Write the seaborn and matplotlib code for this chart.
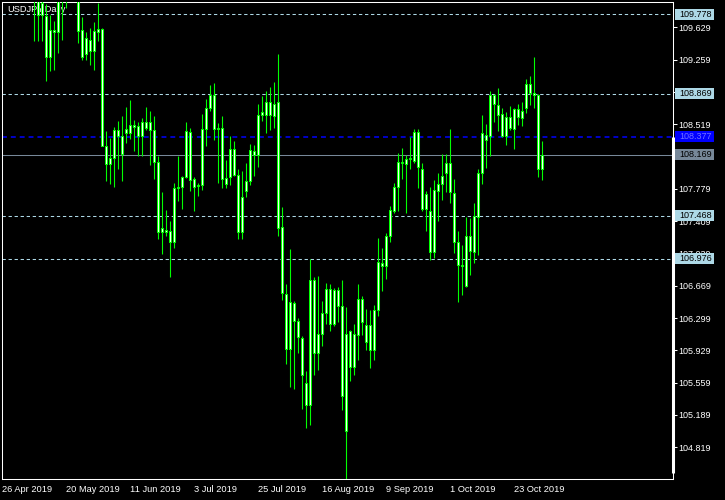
import numpy as np
import pandas as pd
import matplotlib
matplotlib.use("Agg")
import matplotlib.pyplot as plt
import matplotlib.transforms as mtransforms
from matplotlib.patches import Rectangle
import seaborn as sns

# --- Data ---
symbol_title = "USDJPY,Daily"
start_date = "2019-04-26"

opens = [111.60, 111.55, 111.45, 111.40, 111.55, 111.50, 111.00, 110.70, 110.25, 110.00,
         109.77, 109.76, 109.29, 109.60, 109.58, 109.95, 110.05, 110.10, 110.50, 110.35,
         109.60, 109.32, 109.48, 109.36, 109.58, 109.61, 108.27, 108.06, 108.13, 108.45,
         108.38, 108.42, 108.42, 108.51, 108.50, 108.38, 108.55, 108.45, 108.45, 108.09,
         107.29, 107.31, 107.30, 107.17, 107.79, 107.80, 107.91, 108.43, 107.89, 107.81,
         107.82, 108.46, 108.71, 108.85, 108.46, 108.48, 107.90, 107.91, 108.23, 107.94,
         107.29, 107.76, 107.87, 108.21, 108.17, 108.62, 108.77, 108.62, 108.61, 108.77,
         107.34, 106.57, 105.94, 106.47, 106.26, 106.07, 105.55, 105.30, 106.74, 105.90,
         106.12, 106.36, 106.63, 106.23, 106.62, 106.44, 105.00, 106.15, 105.74, 106.11,
         106.52, 106.22, 106.22, 105.93, 106.39, 106.93, 106.90, 107.24, 107.53, 107.80,
         108.09, 108.06, 108.12, 108.10, 108.43, 108.01, 107.55, 107.53, 107.05, 107.76,
         107.83, 107.96, 108.07, 107.73, 107.17, 106.91, 106.67, 107.24, 107.06, 107.46,
         107.96, 108.40, 108.39, 108.85, 108.74, 108.64, 108.39, 108.60, 108.47, 108.69,
         108.59, 108.70, 108.98, 108.88, 108.85, 108.01]
highs = [111.75, 111.70, 111.55, 111.65, 111.70, 111.60, 111.10, 110.80, 110.30, 110.10,
         110.05, 109.90, 109.77, 109.70, 110.00, 110.10, 110.35, 110.65, 110.65, 110.45,
         109.75, 109.58, 109.62, 109.69, 109.91, 109.62, 108.44, 108.36, 108.49, 108.56,
         108.61, 108.72, 108.80, 108.57, 108.54, 108.59, 108.72, 108.67, 108.61, 108.15,
         107.74, 107.54, 107.41, 107.85, 108.16, 107.93, 108.54, 108.48, 107.92, 107.85,
         108.64, 108.81, 108.97, 108.99, 108.53, 108.61, 108.11, 108.38, 108.33, 108.01,
         107.98, 108.07, 108.29, 108.28, 108.75, 108.84, 108.90, 108.94, 109.00, 109.32,
         107.57, 106.69, 107.09, 106.49, 106.30, 106.09, 105.69, 106.97, 106.77, 106.78,
         106.49, 106.70, 106.69, 106.64, 106.65, 106.74, 106.42, 106.16, 106.23, 106.69,
         106.55, 106.40, 106.39, 106.45, 107.22, 107.10, 107.27, 107.58, 107.85, 108.19,
         108.25, 108.17, 108.37, 108.47, 108.47, 108.08, 107.76, 107.80, 107.88, 107.96,
         108.18, 108.18, 108.47, 107.89, 107.30, 107.14, 107.46, 107.44, 107.62, 108.01,
         108.63, 108.52, 108.90, 108.86, 108.93, 108.71, 108.66, 108.73, 108.71, 108.75,
         108.77, 109.04, 109.07, 109.29, 108.86, 108.33]
lows = [111.40, 111.35, 111.00, 111.30, 111.40, 111.00, 110.30, 110.20, 109.47, 109.47,
        109.47, 109.01, 109.13, 109.14, 109.33, 109.48, 109.85, 110.05, 110.20, 109.45,
        109.25, 109.26, 109.20, 109.14, 109.47, 108.27, 107.87, 107.83, 107.80, 108.01,
        107.87, 108.30, 108.35, 108.21, 108.16, 108.15, 108.45, 108.05, 107.89, 107.21,
        107.03, 107.24, 106.77, 107.10, 107.64, 107.55, 107.90, 107.76, 107.53, 107.70,
        107.77, 108.27, 108.67, 108.34, 107.85, 107.79, 107.79, 107.82, 107.93, 107.20,
        107.20, 107.69, 107.82, 107.93, 108.03, 108.56, 108.42, 108.45, 108.48, 107.24,
        106.51, 105.77, 105.51, 105.49, 105.90, 105.26, 105.04, 105.07, 105.65, 105.70,
        105.98, 106.23, 106.15, 106.21, 106.25, 105.25, 104.46, 105.58, 105.65, 105.82,
        106.11, 105.93, 105.73, 105.82, 106.32, 106.61, 106.75, 107.17, 107.50, 107.52,
        107.89, 107.50, 108.01, 108.08, 107.79, 107.52, 107.30, 106.96, 106.99, 107.41,
        107.65, 107.74, 107.62, 107.04, 106.48, 106.56, 106.65, 106.79, 106.93, 107.02,
        107.83, 108.02, 108.15, 108.55, 108.44, 108.37, 108.28, 108.45, 108.24, 108.51,
        108.50, 108.65, 108.74, 108.71, 107.92, 107.88]
closes = [111.55, 111.45, 111.40, 111.55, 111.50, 111.10, 110.70, 110.25, 110.00, 109.77,
          109.91, 109.29, 109.60, 109.58, 109.95, 110.05, 110.10, 110.50, 110.35, 109.59,
          109.29, 109.51, 109.36, 109.59, 109.61, 108.27, 108.06, 108.13, 108.45, 108.38,
          108.18, 108.47, 108.51, 108.49, 108.38, 108.55, 108.48, 108.55, 108.09, 107.29,
          107.33, 107.29, 107.17, 107.79, 107.80, 107.91, 108.44, 107.88, 107.80, 107.82,
          108.46, 108.71, 108.85, 108.46, 108.48, 107.89, 107.84, 108.23, 107.94, 107.29,
          107.69, 107.87, 108.22, 108.17, 108.62, 108.66, 108.62, 108.77, 108.75, 107.33,
          106.59, 105.94, 106.48, 106.26, 106.08, 105.65, 105.30, 106.74, 105.90, 106.12,
          106.36, 106.63, 106.23, 106.62, 106.44, 105.41, 106.12, 105.74, 106.12, 106.52,
          106.25, 106.03, 105.93, 106.39, 106.94, 106.90, 107.24, 107.54, 107.80, 108.09,
          108.07, 108.12, 108.13, 108.43, 108.03, 107.55, 107.72, 107.06, 107.77, 107.83,
          107.93, 108.07, 107.74, 107.17, 106.91, 106.90, 107.24, 107.07, 107.47, 107.96,
          108.42, 108.34, 108.85, 108.75, 108.63, 108.38, 108.60, 108.48, 108.69, 108.60,
          108.67, 108.98, 108.88, 108.85, 108.01, 108.169]

# horizontal price levels shown on the chart
levels = [109.778, 108.869, 108.377, 108.169, 107.468, 106.976]
level_colors = ["#ADD8E6", "#ADD8E6", "#0000FF", "#778899", "#ADD8E6", "#ADD8E6"]
level_text_colors = ["black", "black", "#7070ff", "black", "black", "black"]
level_dashed = [True, True, True, False, True, True]
level_widths = [0.75, 0.75, 1.1, 0.75, 0.75, 0.75]

y_ticks = [109.629, 109.259, 108.889, 108.519, 108.149, 107.779, 107.409,
           107.039, 106.669, 106.299, 105.929, 105.559, 105.189, 104.819]
# labels hidden behind the level boxes in the reference
y_hidden = [108.889, 108.149]
date_tick_every = 16
y_range = (104.455, 109.916)

# --- Setup ---
sns.set_theme(style="dark", rc={
    "figure.facecolor": "black",
    "axes.facecolor": "black",
    "axes.edgecolor": "white",
    "axes.linewidth": 0.75,
    "xtick.color": "white",
    "ytick.color": "white",
    "text.color": "white",
    "axes.grid": False,
})
plt.rcParams["font.family"] = ["Liberation Sans", "DejaVu Sans"]

df = pd.DataFrame({
    "date": pd.bdate_range(start_date, periods=len(opens)),
    "open": opens, "high": highs, "low": lows, "close": closes,
})
df["x"] = np.arange(len(df))
df["body_low"] = df[["open", "close"]].min(axis=1)
df["body_h"] = (df["open"] - df["close"]).abs().clip(lower=0.002)

fig = plt.figure(figsize=(7.25, 5), dpi=100)
ax = fig.add_axes([2 / 725, 21 / 500, 670.7 / 725, 476.7 / 500])

# --- Levels ---
for p, c, dashed, lw in zip(levels, level_colors, level_dashed, level_widths):
    ls = (0, (3.2, 2.6)) if dashed else "-"
    ax.axhline(p, color=c, lw=lw, ls=ls, zorder=1)

# --- Candles ---
ax.vlines(df["x"], df["low"], df["high"], color="#00FF00", lw=0.8, zorder=3)
ax.bar(df["x"], df["body_h"], bottom=df["body_low"], width=0.5,
       color="white", edgecolor="#00FF00", linewidth=0.75, zorder=4)

ax.set_xlim(-0.075, -0.075 + 670.7 / 4)
ax.set_ylim(*y_range)

# --- Axes / ticks ---
ax.yaxis.tick_right()
ax.set_yticks(y_ticks)
ax.set_yticklabels(["" if v in y_hidden else f"{v:.3f}" for v in y_ticks])
ax.tick_params(axis="y", which="both", direction="out", length=3, width=0.75,
               colors="white", labelsize=6.5, pad=1)

tick_idx = df["x"].iloc[::date_tick_every]
ax.set_xticks(tick_idx)
ax.set_xticklabels([f"{d.day} {d.strftime('%b %Y')}" for d in df["date"].iloc[::date_tick_every]],
                   ha="left")
ax.tick_params(axis="x", direction="out", length=3, width=0.75,
               colors="white", labelsize=6.7, pad=1)
for s in ax.spines.values():
    s.set_color("white")
    s.set_linewidth(0.75)

# thick segment on right edge
ax.plot([1, 1], [108.377, 104.524], color="white", lw=2.2,
        transform=mtransforms.blended_transform_factory(ax.transAxes, ax.transData),
        clip_on=False, zorder=6, solid_capstyle="butt")

# --- Level price boxes ---
blend = mtransforms.blended_transform_factory(fig.transFigure, ax.transData)
box_h = 11 / 87.3
for p, c, tc in zip(levels, level_colors, level_text_colors):
    ax.add_patch(Rectangle((675 / 725, p - box_h / 2), 39 / 725, box_h,
                           transform=blend, facecolor=c, edgecolor="none",
                           clip_on=False, zorder=7))
    ax.text(679 / 725, p, f"{p:.3f}", transform=blend, color=tc, fontsize=6.5,
            va="center", ha="left", clip_on=False, zorder=8)

# --- Title ---
ax.text(0.0075, 0.985, symbol_title, transform=ax.transAxes, color="white",
        fontsize=6.7, va="center", ha="left", zorder=2)

fig.savefig("out.png", dpi=100, facecolor="black")
